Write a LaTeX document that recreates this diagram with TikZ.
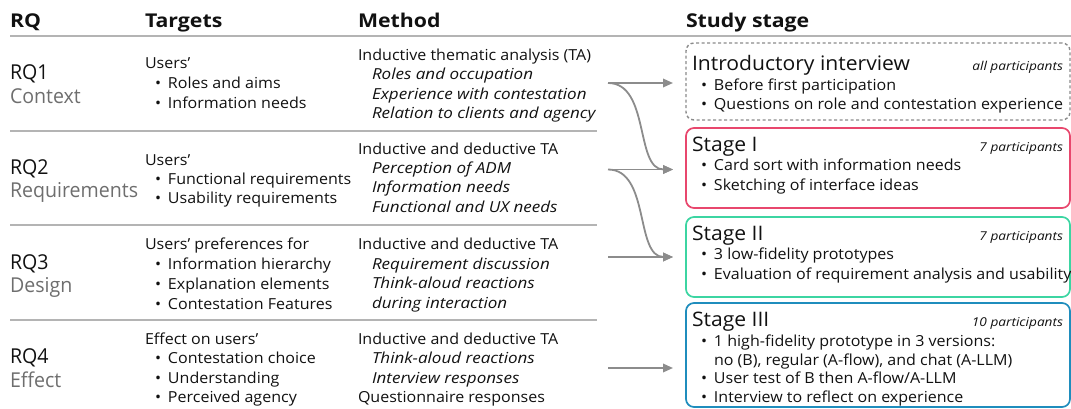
\documentclass[tikz,border=0pt]{standalone}
\usepackage{fontspec}
\setmainfont{Open Sans}[
  FakeStretch=1.055,
  ItalicFeatures={FakeStretch=1.12},
  BoldFeatures={FakeStretch=1.12}]
\newfontfamily\rqfont{Open Sans}[FakeStretch=0.955]
\usetikzlibrary{arrows.meta,calc}

\definecolor{ink}{HTML}{111111}
\definecolor{subgray}{HTML}{6E6E6E}
\definecolor{rulegray}{HTML}{B4B4B4}
\definecolor{arrgray}{HTML}{8C8C8C}
\definecolor{introgray}{HTML}{8A8A8A}
\definecolor{stageone}{HTML}{E8476D}
\definecolor{stagetwo}{HTML}{3CD5A2}
\definecolor{stagethree}{HTML}{1F8DBD}

\newcommand\bl{\makebox[13pt][l]{•}}

\tikzset{
  base/.style={inner sep=0pt, outer sep=0pt, anchor=base west, text=ink},
  hdr/.style={base, font=\fontsize{19}{21}\selectfont\bfseries},
  rqname/.style={base, font=\rqfont\fontsize{20.5}{24}\selectfont},
  rqsub/.style={rqname, text=subgray},
  txt/.style={base, font=\fontsize{15.2}{18}\selectfont},
  itx/.style={base, font=\fontsize{15.2}{18}\selectfont\itshape},
  ttl/.style={base, font=\fontsize{20}{24}\selectfont},
  part/.style={inner sep=0pt, outer sep=0pt, anchor=base east, text=ink,
    font=\fontsize{12.2}{15}\selectfont\itshape},
  rowrule/.style={draw=rulegray, line width=1.1pt},
  stagebox/.style={draw=#1, line width=1.7pt, rounded corners=8pt,
    anchor=north west, minimum width=384pt, inner sep=0pt, outer sep=0pt},
  arr/.style={draw=arrgray, line width=1.8pt,
    -{Triangle[length=10pt,width=8.5pt]}},
}

\begin{document}
\begin{tikzpicture}[x=1pt,y=-1pt]
\useasboundingbox (0,0) rectangle (1071,409);

% column headers
\node[hdr] (hRQ) at (10,28) {RQ};
\node[hdr] (hT) at (145,28) {Targets};
\node[hdr] (hM) at (358,28) {Method};
\node[hdr] (hS) at (686,28) {Study stage};
\draw[draw=rulegray, line width=1.1pt] (10,36) -- (1071,36);

% row separators
\draw[rowrule] (10,131) -- (597,131);
\draw[rowrule] (10,225) -- (597,225);
\draw[rowrule] (10,320) -- (597,320);

% RQ column
\node[rqname] (rq1) at (10,80) {RQ1};
\node[rqsub] (rq1s) at (10,104) {Context};
\node[rqname] (rq2) at (10,175) {RQ2};
\node[rqsub] (rq2s) at (10,197) {Requirements};
\node[rqname] (rq3) at (10,269) {RQ3};
\node[rqsub] (rq3s) at (10,292) {Design};
\node[rqname] (rq4) at (10,363) {RQ4};
\node[rqsub] (rq4s) at (10,387) {Effect};

% Targets column
\node[txt] (t1) at (145,68.5) {Users’};
\node[txt] (t1a) at (155,89) {\bl Roles and aims};
\node[txt] (t1b) at (155,109) {\bl Information needs};
\node[txt] (t2) at (145,165) {Users’};
\node[txt] (t2a) at (155,184) {\bl Functional requirements};
\node[txt] (t2b) at (155,203.5) {\bl Usability requirements};
\node[txt] (t3) at (145,249.5) {Users’ preferences for};
\node[txt] (t3a) at (155,269) {\bl Information hierarchy};
\node[txt] (t3b) at (155,289) {\bl Explanation elements};
\node[txt] (t3c) at (155,309) {\bl Contestation Features};
\node[txt] (t4) at (145,344) {Effect on users’};
\node[txt] (t4a) at (155,363) {\bl Contestation choice};
\node[txt] (t4b) at (155,383) {\bl Understanding};
\node[txt] (t4c) at (155,402) {\bl Perceived agency};

% Method column
\node[txt] (m1) at (358,60.5) {Inductive thematic analysis (TA)};
\node[itx] (m1a) at (372,80) {Roles and occupation};
\node[itx] (m1b) at (372,99.5) {Experience with contestation};
\node[itx] (m1c) at (372,119) {Relation to clients and agency};
\node[txt] (m2) at (358,154) {Inductive and deductive TA};
\node[itx] (m2a) at (372,173.5) {Perception of ADM};
\node[itx] (m2b) at (372,193) {Information needs};
\node[itx] (m2c) at (372,212.5) {Functional and UX needs};
\node[txt] (m3) at (358,249.5) {Inductive and deductive TA};
\node[itx] (m3a) at (372,269) {Requirement discussion};
\node[itx] (m3b) at (372,288.5) {Think-aloud reactions};
\node[itx] (m3c) at (372,308) {during interaction};
\node[txt] (m4) at (358,344) {Inductive and deductive TA};
\node[itx] (m4a) at (372,363.5) {Think-aloud reactions};
\node[itx] (m4b) at (372,383) {Interview responses};
\node[txt] (m4c) at (358,402.5) {Questionnaire responses};

% Study stage boxes
\node[stagebox=introgray, dashed, dash pattern=on 3pt off 2.5pt, line width=1.4pt,
  minimum height=77pt] (intro) at (686,43) {};
\node[stagebox=stageone, minimum height=80pt] (st1) at (686,128) {};
\node[stagebox=stagetwo, minimum height=80pt] (st2) at (686,217) {};
\node[stagebox=stagethree, minimum height=104pt] (st3) at (686,303) {};

\node[ttl] (introT) at (692,71) {Introductory interview};
\node[part] (introP) at (1063,70.5) {all participants};
\node[txt] (introA) at (701,90.5) {\bl Before first participation};
\node[txt] (introB) at (701,110) {\bl Questions on role and contestation experience};

\node[ttl] (st1T) at (692,151.5) {Stage I};
\node[part] (st1P) at (1063,151.5) {7 participants};
\node[txt] (st1A) at (701,170.5) {\bl Card sort with information needs};
\node[txt] (st1B) at (701,190) {\bl Sketching of interface ideas};

\node[ttl] (st2T) at (692,240) {Stage II};
\node[part] (st2P) at (1063,240) {7 participants};
\node[txt] (st2A) at (701,259.5) {\bl 3 low-fidelity prototypes};
\node[txt] (st2B) at (701,279) {\bl Evaluation of requirement analysis and usability};

\node[ttl] (st3T) at (692,326) {Stage III};
\node[part] (st3P) at (1063,326) {10 participants};
\node[txt] (st3A) at (701,346.5) {\bl 1 high-fidelity prototype in 3 versions:};
\node[txt] (st3A2) at (714,365) {no (B), regular (A-flow), and chat (A-LLM)};
\node[txt] (st3B) at (701,383.5) {\bl User test of B then A-flow/A-LLM};
\node[txt] (st3C) at (701,402) {\bl Interview to reflect on experience};

% connectors from method rows to study stages
\coordinate (s1) at (608,83);
\coordinate (s2) at (608,169.5);
\coordinate (s3) at (608,257);
\coordinate (s4) at (608,368);
\coordinate (e1) at ($(s1 -| intro.west)+(-13,0)$);
\coordinate (e2) at ($(s2 -| st1.west)+(-13,0)$);
\coordinate (e3) at ($(s3 -| st2.west)+(-13,0)$);
\coordinate (e4) at ($(s4 -| st3.west)+(-13,0)$);

\draw[arr] (s1) -- (e1);
\draw[arr] (s1) .. controls +(42,0) and +(-38,0) .. (e2);
\draw[arr] (s2) -- (e2);
\draw[arr] (s2) .. controls +(42,0) and +(-38,0) .. (e3);
\draw[arr] (s3) -- (e3);
\draw[arr] (s4) -- (e4);
\end{tikzpicture}
\end{document}
